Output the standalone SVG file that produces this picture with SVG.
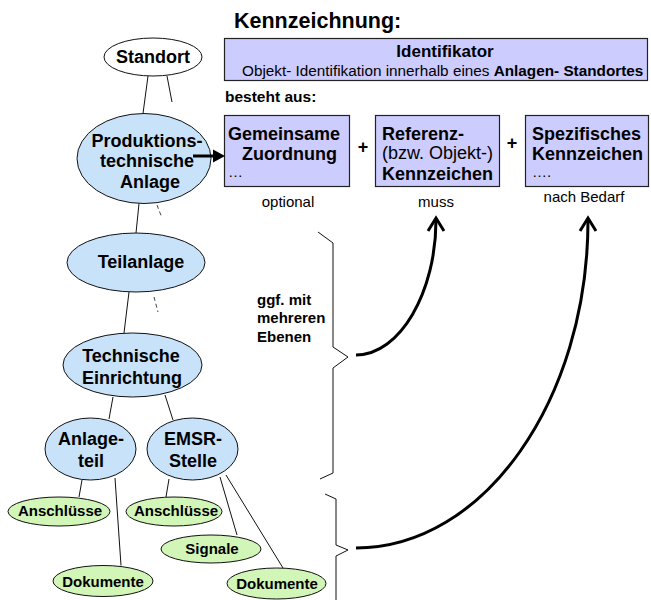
<svg xmlns="http://www.w3.org/2000/svg" width="651" height="600" viewBox="0 0 651 600">
  <style>
    text { font-family: "Liberation Sans", Arial, sans-serif; fill: #000; }
    .b { font-weight: bold; }
    .node-blue { fill: #c8e2fa; stroke: #111; stroke-width: 1; }
    .node-green { fill: #d2f5b8; stroke: #111; stroke-width: 1; }
    .node-white { fill: #fff; stroke: #111; stroke-width: 1; }
    .box { fill: #ccccff; stroke: #222; stroke-width: 1.2; }
    .edge { stroke: #111; stroke-width: 1; fill: none; }
    .dash { stroke: #444; stroke-width: 1; stroke-dasharray: 4 3; fill: none; }
    .brace { stroke: #111; stroke-width: 1; fill: none; }
    .curve { stroke: #000; stroke-width: 3; fill: none; }
    .n { font-size: 18px; font-weight: bold; text-anchor: middle; }
    .s { font-size: 15px; font-weight: bold; text-anchor: middle; }
  </style>

  <!-- Heading -->
  <text class="b" x="234" y="28" font-size="21.5">Kennzeichnung:</text>

  <!-- Identifier box -->
  <g id="identifikator">
    <rect class="box" x="224.5" y="38.5" width="423" height="42"/>
    <text class="b" x="445" y="57" font-size="17" text-anchor="middle">Identifikator</text>
    <text x="242" y="76" font-size="15.3">Objekt- Identifikation innerhalb eines <tspan class="b">Anlagen- Standortes</tspan></text>
  </g>

  <text class="b" x="225" y="102" font-size="15.5">besteht aus:</text>

  <!-- Parts of the identifier -->
  <g id="gemeinsame-zuordnung">
    <rect class="box" x="224.5" y="115.5" width="125" height="71"/>
    <text class="b" x="228" y="140" font-size="18">Gemeinsame</text>
    <text class="b" x="242" y="160" font-size="18">Zuordnung</text>
    <text x="228" y="177" font-size="15">…</text>
  </g>
  <text class="b" x="363" y="153" font-size="18" text-anchor="middle">+</text>
  <g id="referenz-kennzeichen">
    <rect class="box" x="375.5" y="115.5" width="124" height="71"/>
    <text class="b" x="382" y="140" font-size="18">Referenz-</text>
    <text x="382" y="159" font-size="18">(bzw. Objekt-)</text>
    <text class="b" x="382" y="180" font-size="18">Kennzeichen</text>
  </g>
  <text class="b" x="512" y="149" font-size="18" text-anchor="middle">+</text>
  <g id="spezifisches-kennzeichen">
    <rect class="box" x="525.5" y="115.5" width="123" height="71"/>
    <text class="b" x="532" y="140" font-size="18">Spezifisches</text>
    <text class="b" x="532" y="160" font-size="18">Kennzeichen</text>
    <text x="532" y="177" font-size="15">….</text>
  </g>

  <text x="288" y="207" font-size="15" text-anchor="middle">optional</text>
  <text x="436" y="207" font-size="15" text-anchor="middle">muss</text>
  <text x="584" y="202" font-size="15" text-anchor="middle">nach Bedarf</text>

  <text class="b" x="257" y="305" font-size="15">ggf. mit</text>
  <text class="b" x="257" y="323" font-size="15">mehreren</text>
  <text class="b" x="257" y="342" font-size="15">Ebenen</text>

  <!-- Tree nodes -->
  <g id="standort">
    <ellipse class="node-white" cx="153" cy="57" rx="49" ry="19"/>
    <text class="n" x="153" y="63">Standort</text>
  </g>
  <g id="produktionstechnische-anlage">
    <ellipse class="node-blue" cx="144" cy="158.5" rx="67" ry="45"/>
    <text class="n" x="147" y="147">Produktions-</text>
    <text class="n" x="147" y="167">technische</text>
    <text class="n" x="150" y="188">Anlage</text>
  </g>
  <g id="teilanlage">
    <ellipse class="node-blue" cx="136" cy="262.5" rx="69" ry="29.5"/>
    <text class="n" x="141" y="268">Teilanlage</text>
  </g>
  <g id="technische-einrichtung">
    <ellipse class="node-blue" cx="132.5" cy="365" rx="69.5" ry="32"/>
    <text class="n" x="131" y="362">Technische</text>
    <text class="n" x="132" y="384">Einrichtung</text>
  </g>
  <g id="anlageteil">
    <ellipse class="node-blue" cx="90.5" cy="449" rx="45.5" ry="31"/>
    <text class="n" x="91" y="445">Anlage-</text>
    <text class="n" x="91" y="467">teil</text>
  </g>
  <g id="emsr-stelle">
    <ellipse class="node-blue" cx="192.5" cy="449" rx="45.5" ry="31"/>
    <text class="n" x="193" y="445">EMSR-</text>
    <text class="n" x="193" y="467">Stelle</text>
  </g>
  <g id="anschluesse-1">
    <ellipse class="node-green" cx="59" cy="511.5" rx="51" ry="14.5"/>
    <text class="s" x="60" y="516">Anschlüsse</text>
  </g>
  <g id="anschluesse-2">
    <ellipse class="node-green" cx="174" cy="511.5" rx="48" ry="14.5"/>
    <text class="s" x="176" y="516">Anschlüsse</text>
  </g>
  <g id="signale">
    <ellipse class="node-green" cx="211" cy="549" rx="50" ry="14"/>
    <text class="s" x="212" y="554">Signale</text>
  </g>
  <g id="dokumente-1">
    <ellipse class="node-green" cx="103" cy="581" rx="50" ry="15.5"/>
    <text class="s" x="103" y="587">Dokumente</text>
  </g>
  <g id="dokumente-2">
    <ellipse class="node-green" cx="276.5" cy="583.5" rx="49.5" ry="15.5"/>
    <text class="s" x="277" y="589">Dokumente</text>
  </g>

  <!-- Tree connectors, braces and arrows -->
  <g id="connectors">
    <line class="edge" x1="148" y1="76" x2="143" y2="113.5"/>
    <line class="edge" x1="167" y1="76" x2="172" y2="102"/>
    <line class="edge" x1="139" y1="203.5" x2="136" y2="233"/>
    <line class="dash" x1="157" y1="205" x2="162" y2="218"/>
    <line class="edge" x1="129" y1="292" x2="124" y2="333"/>
    <line class="dash" x1="154" y1="297" x2="158" y2="312"/>
    <line class="edge" x1="113" y1="397" x2="109" y2="419"/>
    <line class="edge" x1="165" y1="395" x2="173" y2="420"/>
    <line class="edge" x1="82" y1="480" x2="79" y2="497"/>
    <line class="edge" x1="115" y1="478" x2="121" y2="565.5"/>
    <line class="edge" x1="169" y1="479" x2="166" y2="497"/>
    <line class="edge" x1="220" y1="477" x2="237" y2="535"/>
    <line class="edge" x1="226" y1="475" x2="283" y2="568"/>

    <!-- arrow into the first part box -->
    <line x1="193" y1="156" x2="215" y2="156" stroke="#000" stroke-width="3"/>
    <polygon points="213,149.5 225,156 213,162.5" fill="#000"/>

    <!-- braces -->
    <path class="brace" d="M318,232 L333,243 L333,347 L348,357 L333,368 L333,473 L320,479"/>
    <path class="brace" d="M325,494 L336,499 L336,545 L348,550 L336,556 L336,600"/>

    <!-- curved arrows -->
    <path class="curve" d="M356,355 C400,355 436,292 436,220"/>
    <path class="curve" d="M428,231 L436,218 L444,231"/>
    <path class="curve" d="M356,548 C484,548 588,400 588,220"/>
    <path class="curve" d="M580,231 L588,218 L596,231"/>
  </g>
</svg>
